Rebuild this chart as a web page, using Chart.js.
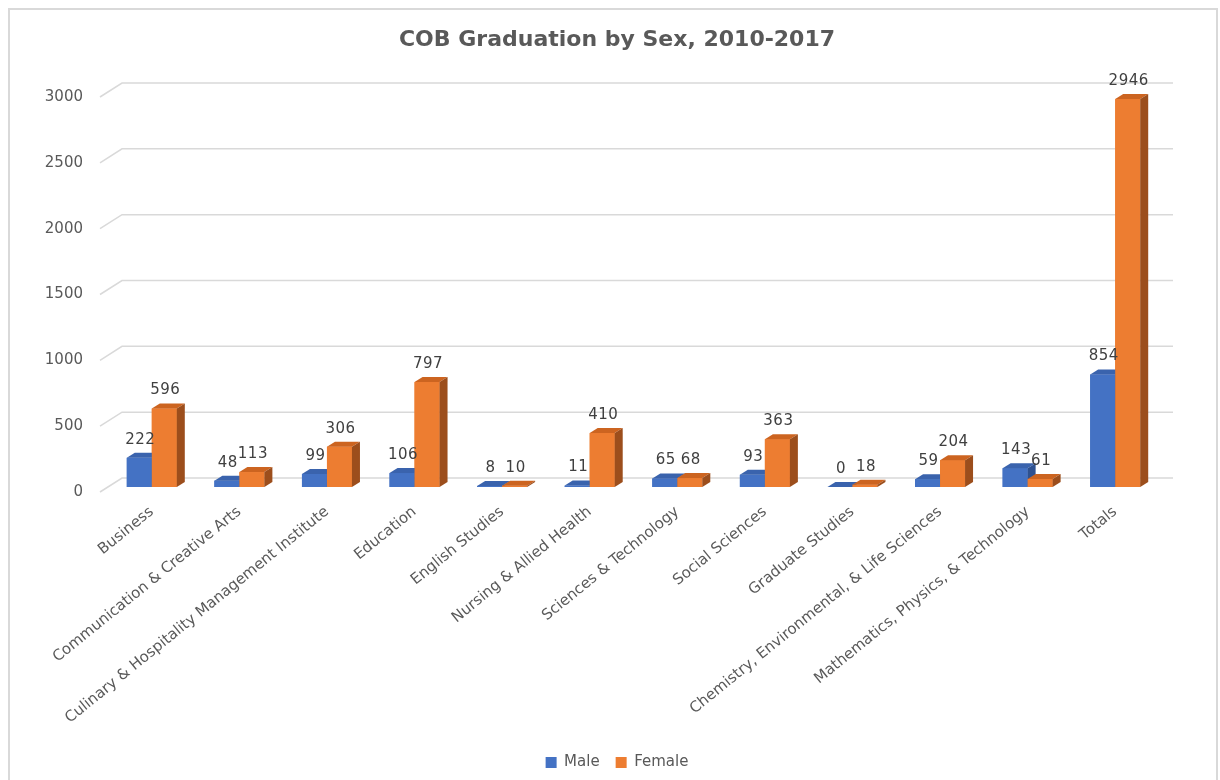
<!DOCTYPE html>
<html>
<head>
<meta charset="utf-8">
<script src="https://cdn.jsdelivr.net/npm/chart.js@4.4.1/dist/chart.umd.min.js"></script>
<style>
  html, body { margin: 0; padding: 0; background: #ffffff; }
  #wrap { position: relative; width: 1220px; height: 780px; }
</style>
</head>
<body>
<div id="wrap"><canvas id="c" width="1220" height="780"></canvas></div>
<script>
const categories = [
  "Business",
  "Communication & Creative Arts",
  "Culinary & Hospitality Management Institute",
  "Education",
  "English Studies",
  "Nursing & Allied Health",
  "Sciences & Technology",
  "Social Sciences",
  "Graduate Studies",
  "Chemistry, Environmental, & Life Sciences",
  "Mathematics, Physics, & Technology",
  "Totals"
];
const maleValues   = [222, 48, 99, 106, 8, 11, 65, 93, 0, 59, 143, 854];
const femaleValues = [596, 113, 306, 797, 10, 410, 68, 363, 18, 204, 61, 2946];
const seriesNames = ["Male", "Female"];
const yAxisMin = 0;
const yAxisMax = 3000;
const yAxisStep = 500;

const faces = [
  { front: "#4472C4", top: "#3A63AD", side: "#2E5190" },
  { front: "#ED7D31", top: "#CC6420", side: "#9C4E1C" }
];
const DX = 8, DY = 5;

const frameAndGrid = {
  id: "frameAndGrid",
  beforeDraw(chart) {
    const ctx = chart.ctx;
    ctx.save();
    ctx.strokeStyle = "#D9D9D9";
    ctx.lineWidth = 2;
    ctx.strokeRect(9, 9, 1208, 800);
    ctx.restore();
  },
  beforeDatasetsDraw(chart) {
    const ctx = chart.ctx;
    const ys = chart.scales.y;
    const area = chart.chartArea;
    ctx.save();
    ctx.strokeStyle = "#D9D9D9";
    ctx.lineWidth = 1.5;
    ys.ticks.forEach(t => {
      const p = ys.getPixelForValue(t.value);
      ctx.beginPath();
      ctx.moveTo(area.left - 8, p + 5);
      ctx.lineTo(area.left + 14, p - 9);
      ctx.lineTo(area.right + 14, p - 9);
      ctx.stroke();
    });
    ctx.restore();
  }
};

const bars3d = {
  id: "bars3d",
  afterDatasetsDraw(chart) {
    const ctx = chart.ctx;
    const metas = chart.data.datasets.map((d, i) => chart.getDatasetMeta(i));
    ctx.save();
    for (let i = 0; i < categories.length; i++) {
      metas.forEach((m, di) => {
        const el = m.data[i];
        const { x, y, base, width } = el.getProps(["x", "y", "base", "width"], true);
        const l = x - width / 2, r = x + width / 2;
        const f = faces[di];
        ctx.fillStyle = f.front;
        ctx.fillRect(l, y, width, base - y);
        ctx.fillStyle = f.top;
        ctx.beginPath();
        ctx.moveTo(l, y); ctx.lineTo(r, y); ctx.lineTo(r + DX, y - DY); ctx.lineTo(l + DX, y - DY);
        ctx.closePath(); ctx.fill();
        ctx.fillStyle = f.side;
        ctx.beginPath();
        ctx.moveTo(r, y); ctx.lineTo(r + DX, y - DY); ctx.lineTo(r + DX, base - DY); ctx.lineTo(r, base);
        ctx.closePath(); ctx.fill();
      });
    }
    ctx.fillStyle = "#404040";
    ctx.font = "15px 'DejaVu Sans'";
    ctx.textAlign = "center";
    ctx.textBaseline = "middle";
    try { ctx.letterSpacing = "0.5px"; } catch (e) {}
    metas.forEach((m, di) => {
      const vals = chart.data.datasets[di].data;
      m.data.forEach((el, i) => {
        const { x, y } = el.getProps(["x", "y"], true);
        ctx.fillText(String(vals[i]), x + 1, y - 18);
      });
    });
    ctx.restore();
  }
};

new Chart(document.getElementById("c"), {
  type: "bar",
  data: {
    labels: categories,
    datasets: [
      { label: seriesNames[0], data: maleValues, backgroundColor: faces[0].front, borderWidth: 0 },
      { label: seriesNames[1], data: femaleValues, backgroundColor: faces[1].front, borderWidth: 0 }
    ]
  },
  options: {
    responsive: false,
    animation: false,
    events: [],
    layout: { padding: { left: 14, right: 0, top: 0, bottom: 0 } },
    datasets: { bar: { categoryPercentage: 0.571, barPercentage: 1.0 } },
    scales: {
      x: {
        grid: { display: false, drawTicks: false },
        border: { display: false },
        ticks: {
          autoSkip: false, minRotation: 39, maxRotation: 39, padding: 16,
          color: "#595959", font: { family: "'DejaVu Sans'", size: 15 }
        },
        afterFit(scale) { scale.height = 780 - 487 - scale.chart.legend.height; }
      },
      y: {
        min: yAxisMin, max: yAxisMax,
        grid: { display: false, drawTicks: false },
        border: { display: false },
        ticks: {
          stepSize: yAxisStep, padding: 25, labelOffset: 5,
          color: "#595959", font: { family: "'DejaVu Sans'", size: 15 },
          callback: (v) => String(v)
        },
        afterFit(scale) { scale.width = 94; }
      },
      yRight: {
        position: "right",
        display: true,
        grid: { display: false, drawTicks: false },
        border: { display: false },
        ticks: { display: false },
        afterFit(scale) { scale.width = 61; }
      }
    },
    plugins: {
      title: {
        display: true,
        text: "COB Graduation by Sex, 2010-2017",
        color: "#595959",
        font: { family: "'DejaVu Sans'", size: 22, weight: "bold", lineHeight: 1.2 },
        padding: { top: 27, bottom: 38.6 }
      },
      legend: {
        position: "bottom",
        labels: {
          boxWidth: 11, boxHeight: 11, padding: 16,
          color: "#595959", font: { family: "'DejaVu Sans'", size: 15 }
        }
      },
      tooltip: { enabled: false }
    }
  },
  plugins: [frameAndGrid, bars3d]
});
</script>
</body>
</html>
